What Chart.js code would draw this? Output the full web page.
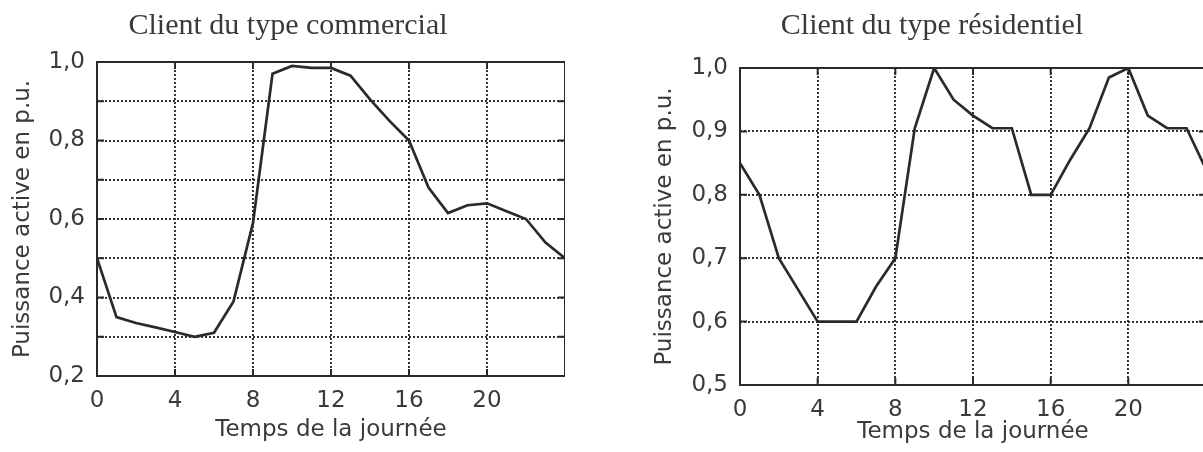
<!DOCTYPE html>
<html lang="fr">
<head>
<meta charset="utf-8">
<title>Courbes de charge</title>
<script src="https://cdn.jsdelivr.net/npm/chart.js@4"></script>
<style>
  html, body { margin: 0; padding: 0; background: #fff; }
  body { width: 1203px; height: 452px; overflow: hidden; position: relative; }
  canvas { position: absolute; top: 0; }
  #chartCommercial { left: 0; }
  #chartResidentiel { left: 620px; }
</style>
</head>
<body>
<canvas id="chartCommercial" width="565" height="452"></canvas>
<canvas id="chartResidentiel" width="586" height="452"></canvas>
<script>
// heures de la journée
const hours = [0, 1, 2, 3, 4, 5, 6, 7, 8, 9, 10, 11, 12, 13, 14, 15, 16, 17, 18, 19, 20, 21, 22, 23, 24];

// puissance active (p.u.)
const commercial = [0.50, 0.35, 0.335, 0.324, 0.312, 0.30, 0.31, 0.39, 0.59, 0.97, 0.99, 0.985, 0.985,
  0.965, 0.905, 0.85, 0.80, 0.68, 0.615, 0.635, 0.64, 0.62, 0.60, 0.54, 0.50];
const residentiel = [0.85, 0.80, 0.70, 0.65, 0.60, 0.60, 0.60, 0.655, 0.70, 0.905, 1.0, 0.95, 0.925,
  0.905, 0.905, 0.80, 0.80, 0.855, 0.905, 0.985, 1.0, 0.925, 0.905, 0.905, 0.84];

// étiquettes des axes
const xTickLabels = ['0', '4', '8', '12', '16', '20'];
const yLabelsCommercial = ['0,2', '0,4', '0,6', '0,8', '1,0'];
const yLabelsResidentiel = ['0,5', '0,6', '0,7', '0,8', '0,9', '1,0'];

const INK = '#2a2a2a';
const TEXT = '#3a3a3a';

Chart.defaults.font.family = '"DejaVu Sans", "Liberation Sans", sans-serif';
Chart.defaults.font.size = 23;
Chart.defaults.color = TEXT;

// cadre plein + petites graduations intérieures (style MATLAB)
const framePlugin = {
  id: 'frame',
  afterDatasetsDraw(chart) {
    const { ctx, chartArea: a, scales: { x, y } } = chart;
    const len = 7;
    ctx.save();
    ctx.setLineDash([]);
    ctx.strokeStyle = INK;
    ctx.lineWidth = 2;
    ctx.beginPath();
    x.ticks.forEach(t => {
      const px = x.getPixelForValue(t.value);
      ctx.moveTo(px, a.bottom); ctx.lineTo(px, a.bottom - len);
      ctx.moveTo(px, a.top); ctx.lineTo(px, a.top + len);
    });
    y.ticks.forEach(t => {
      const py = y.getPixelForValue(t.value);
      ctx.moveTo(a.left, py); ctx.lineTo(a.left + len, py);
      ctx.moveTo(a.right, py); ctx.lineTo(a.right - len, py);
    });
    ctx.stroke();
    ctx.strokeRect(a.left, a.top, a.right - a.left, a.bottom - a.top);
    ctx.restore();
  }
};

function makeChart(id, values, title, cfg) {
  const ctx = document.getElementById(id);
  return new Chart(ctx, {
    type: 'line',
    data: {
      datasets: [{
        data: hours.map((h, i) => ({ x: h, y: values[i] })),
        borderColor: INK,
        borderWidth: 2.7,
        pointRadius: 0,
        tension: 0,
        fill: false
      }]
    },
    options: {
      responsive: false,
      animation: false,
      layout: { padding: { left: cfg.padLeft, right: 0, top: 0, bottom: 0 } },
      plugins: {
        legend: { display: false },
        tooltip: { enabled: false },
        title: {
          display: true,
          text: title,
          color: TEXT,
          font: { family: '"Liberation Serif", "Times New Roman", serif', size: 30, weight: 'normal', lineHeight: 1.2 },
          padding: { top: 8, bottom: cfg.titleGap }
        }
      },
      scales: {
        x: {
          type: 'linear',
          min: 0, max: 24,
          ticks: {
            stepSize: 4,
            padding: 11,
            maxRotation: 0,
            autoSkip: false,
            callback: v => xTickLabels.includes(String(v)) ? String(v) : ''
          },
          grid: { color: INK, lineWidth: 1.9, drawTicks: false },
          border: { display: false, dash: [2, 2] },
          title: {
            display: true,
            text: 'Temps de la journée',
            color: TEXT,
            font: { size: 23, lineHeight: 1.2 },
            padding: { top: 0, bottom: cfg.xTitlePad }
          },
          afterFit: s => {
            s.height = cfg.xAxisHeight;
            s.paddingLeft = 0;
            s.paddingRight = 0;
          }
        },
        y: {
          min: cfg.yMin, max: 1.0,
          ticks: {
            stepSize: 0.1,
            padding: 12,
            callback: v => {
              const s = v.toFixed(1).replace('.', ',');
              return cfg.yLabels.includes(s) ? s : '';
            }
          },
          grid: { color: INK, lineWidth: 1.9, drawTicks: false },
          border: { display: false, dash: [2, 2] },
          title: {
            display: true,
            text: 'Puissance active en p.u.',
            color: TEXT,
            font: { size: 23, lineHeight: 1.2 },
            padding: { top: cfg.yTitlePad, bottom: 0 }
          },
          afterFit: s => { s.width = cfg.yAxisWidth; }
        }
      }
    },
    plugins: [framePlugin]
  });
}

makeChart('chartCommercial', commercial, 'Client du type commercial', {
  padLeft: 11, yAxisWidth: 86, titleGap: 18, xAxisHeight: 76,
  xTitlePad: 8, yTitlePad: -2, yMin: 0.2, yLabels: yLabelsCommercial
});

makeChart('chartResidentiel', residentiel, 'Client du type résidentiel', {
  padLeft: 38, yAxisWidth: 82, titleGap: 24, xAxisHeight: 67,
  xTitlePad: 6, yTitlePad: -7, yMin: 0.5, yLabels: yLabelsResidentiel
});
</script>
</body>
</html>
